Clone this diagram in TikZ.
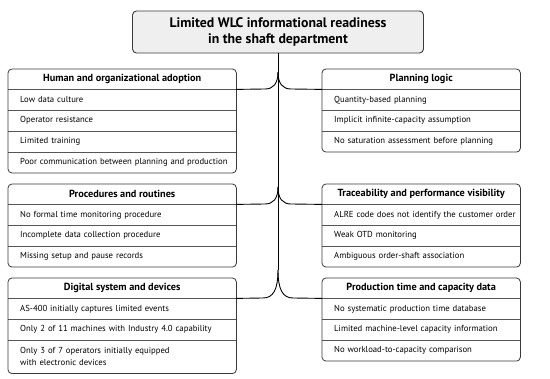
\documentclass[tikz,border=0pt]{standalone}
\usepackage{fontspec}
\setmainfont{PT Sans}
\usetikzlibrary{calc,backgrounds}
\definecolor{headfill}{HTML}{E8E8E8}
\definecolor{titlefill}{HTML}{EFEFEF}
\definecolor{framecol}{HTML}{3A3A3A}
\definecolor{sepcol}{HTML}{555555}
\newcommand\rowfont{\fontsize{8.7pt}{12pt}\selectfont\hyphenpenalty=10000 \exhyphenpenalty=10000 }
\newcommand\headfont{\fontsize{10.3pt}{12pt}\selectfont\bfseries}
\begin{document}
\begin{tikzpicture}[x=1pt,y=-1pt,
  cell/.style={inner ysep=0pt, inner xsep=12pt, minimum height=20.5pt, anchor=north west, font=\rowfont, align=left},
  lcell/.style={cell, text width=212pt},
  rcell/.style={cell, text width=190pt},
  head/.style={inner sep=0pt, minimum height=20pt, anchor=north west, font=\headfont},
  lhead/.style={head, minimum width=228pt},
  rhead/.style={head, minimum width=198pt},
  frame/.style={draw=framecol, line width=0.8pt, rounded corners=4pt},
  sepline/.style={draw=sepcol, line width=0.6pt},
  conn/.style={draw=black, line width=0.9pt}
]
\useasboundingbox (0,0) rectangle (550,379);
\fill[white] (0,0) rectangle (550,379);

% title
\node[draw=framecol, line width=0.9pt, fill=titlefill, rounded corners=4pt,
  minimum width=291pt, minimum height=42pt, align=center, inner sep=0pt,
  font=\fontsize{13.8pt}{16pt}\selectfont\bfseries] (title) at (278,32)
  {Limited WLC informational readiness\\in the shaft department};

% ---------- left box 1
\node[lhead] (hl1) at (8,69) {Human and organizational adoption};
\node[lcell] (l11) at (hl1.south west) {Low data culture};
\node[lcell] (l12) at (l11.south west) {Operator resistance};
\node[lcell] (l13) at (l12.south west) {Limited training};
\node[lcell] (l14) at (l13.south west) {Poor communication between planning and production};
% ---------- left box 2
\node[lhead] (hl2) at (8,184) {Procedures and routines};
\node[lcell] (l21) at (hl2.south west) {No formal time monitoring procedure};
\node[lcell] (l22) at (l21.south west) {Incomplete data collection procedure};
\node[lcell] (l23) at (l22.south west) {Missing setup and pause records};
% ---------- left box 3
\node[lhead] (hl3) at (8,278) {Digital system and devices};
\node[lcell] (l31) at (hl3.south west) {AS-400 initially captures limited events};
\node[lcell] (l32) at (l31.south west) {Only 2 of 11 machines with Industry 4.0 capability};
\node[lcell, minimum height=33pt] (l33) at (l32.south west) {Only 3 of 7 operators initially equipped\\with electronic devices};
% ---------- right box 1
\node[rhead] (hr1) at (322,69) {Planning logic};
\node[rcell] (r11) at (hr1.south west) {Quantity-based planning};
\node[rcell] (r12) at (r11.south west) {Implicit infinite-capacity assumption};
\node[rcell] (r13) at (r12.south west) {No saturation assessment before planning};
% ---------- right box 2
\node[rhead] (hr2) at (322,184) {Traceability and performance visibility};
\node[rcell] (r21) at (hr2.south west) {ALRE code does not identify the customer order};
\node[rcell] (r22) at (r21.south west) {Weak OTD monitoring};
\node[rcell] (r23) at (r22.south west) {Ambiguous order-shaft association};
% ---------- right box 3
\node[rhead] (hr3) at (322,278) {Production time and capacity data};
\node[rcell] (r31) at (hr3.south west) {No systematic production time database};
\node[rcell] (r32) at (r31.south west) {Limited machine-level capacity information};
\node[rcell] (r33) at (r32.south west) {No workload-to-capacity comparison};

% header backgrounds
\begin{scope}[on background layer]
\foreach \h in {hl1,hl2,hl3,hr1,hr2,hr3}{
  \fill[headfill, rounded corners=4pt] (\h.north west) rectangle (\h.south east);
  \fill[headfill] (\h.west) rectangle (\h.south east);
}
\end{scope}

% separators and frames
\foreach \h/\rows/\last in {hl1/{l11,l12,l13,l14}/l14, hl2/{l21,l22,l23}/l23, hl3/{l31,l32,l33}/l33,
                            hr1/{r11,r12,r13}/r13, hr2/{r21,r22,r23}/r23, hr3/{r31,r32,r33}/r33}{
  \foreach \r in \rows {
    \draw[sepline] (\r.north west) -- (\r.north west -| \h.east);
  }
  \draw[frame] (\h.north west) rectangle (\last.south west -| \h.east);
}

% connectors
\coordinate (j1) at (278,72);
\coordinate (j2) at (278,187);
\coordinate (j3) at (278,270);
\draw[conn] (title.south) -- (j3);
\draw[conn] (j1) .. controls (278,84) and (273,89) .. (265,89) -- (hl1.south east);
\draw[conn] (j1) .. controls (278,84) and (283,89) .. (291,89) -- (hr1.south west);
\draw[conn] (j2) .. controls (278,199) and (273,204) .. (265,204) -- (hl2.south east);
\draw[conn] (j2) .. controls (278,199) and (283,204) .. (291,204) -- (hr2.south west);
\draw[conn] (j3) .. controls (278,290) and (273,298) .. (263,298) -- (hl3.south east);
\draw[conn] (j3) .. controls (278,290) and (283,298) .. (293,298) -- (hr3.south west);
\end{tikzpicture}
\end{document}
